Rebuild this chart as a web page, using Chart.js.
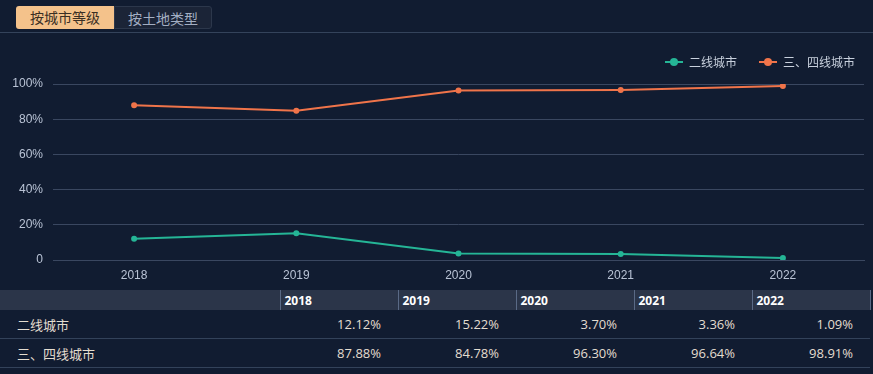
<!DOCTYPE html>
<html>
<head>
<meta charset="utf-8">
<script src="https://cdn.jsdelivr.net/npm/chart.js@4.4.1/dist/chart.umd.min.js"></script>
<style>
  html, body { margin: 0; padding: 0; }
  body {
    width: 873px; height: 374px; overflow: hidden; position: relative;
    background: #111c31;
    font-family: "Open Sans", "Noto Sans CJK SC", sans-serif;
  }
  .tabs { position: absolute; left: 16px; top: 6px; display: flex; }
  .tab {
    height: 23px; line-height: 23px; width: 98px; text-align: center;
    font-size: 14px; font-family: "Noto Sans CJK SC", sans-serif;
    box-sizing: border-box;
  }
  .tab.on { background: #f4c28b; color: #3a2f24; border-radius: 3px 0 0 3px; }
  .tab.off { background: #1b2437; color: #a3aec2; border: 1px solid #2c374b; border-radius: 0 3px 3px 0; }
  .topline { position: absolute; left: 0; right: 0; top: 32px; height: 1px; background: #34435b; }
  #wrap { position: absolute; left: 0; top: 34px; width: 873px; height: 254px; }
  table {
    position: absolute; left: 0; top: 290px; width: 870px;
    border-collapse: collapse; table-layout: fixed;
    font-size: 13px;
  }
  th {
    background: #2b3549; color: #ffffff; font-weight: bold; font-size: 12px;
    text-align: left; height: 20px; padding: 0 0 0 4px;
    border-left: 1px solid #5a6a86;
  }
  th:first-child { border-left: none; }
  th:last-child { border-right: 1px solid #5a6a86; }
  td {
    color: #e4ddd0; height: 28px; padding: 0 17px 0 0; text-align: right;
    border-bottom: 1px solid #33425a;
  }
  td:first-child { text-align: left; padding: 0 0 0 17px; font-family: "Noto Sans CJK SC", sans-serif; }
</style>
</head>
<body>
<div class="tabs"><div class="tab on">按城市等级</div><div class="tab off">按土地类型</div></div>
<div class="topline"></div>
<div id="wrap"><canvas id="c"></canvas></div>
<table id="tbl"></table>
<script>
const years = ['2018', '2019', '2020', '2021', '2022'];
const seriesNames = ['二线城市', '三、四线城市'];
const secondTier = [12.12, 15.22, 3.70, 3.36, 1.09];
const thirdFourthTier = [87.88, 84.78, 96.30, 96.64, 98.91];
const yTicks = [0, 20, 40, 60, 80, 100];
const colors = ['#25b596', '#f0744a'];

function legendMark(color) {
  const c = document.createElement('canvas');
  c.width = 18; c.height = 10;
  const g = c.getContext('2d');
  g.strokeStyle = color; g.lineWidth = 2;
  g.beginPath(); g.moveTo(0, 5); g.lineTo(18, 5); g.stroke();
  g.fillStyle = color;
  g.beginPath(); g.arc(9, 5, 4, 0, Math.PI * 2); g.fill();
  return c;
}

const values = [secondTier, thirdFourthTier];

// extra gap under the legend, and push it a bit to the right
const legendTweak = {
  id: 'legendTweak',
  beforeInit(chart) {
    const orig = chart.legend.fit;
    chart.legend.fit = function () {
      orig.call(this);
      this.height += 6;
    };
  },
  afterLayout(chart) {
    chart.legend.left += 13;
    chart.legend.right += 13;
  },
};

new Chart(document.getElementById('c'), {
  type: 'line',
  plugins: [legendTweak],
  data: {
    labels: years,
    datasets: seriesNames.map((name, i) => ({
      label: name,
      data: values[i],
      borderColor: colors[i],
      backgroundColor: colors[i],
      borderWidth: 2,
      pointRadius: 2,
      pointHoverRadius: 3,
      tension: 0,
    })),
  },
  options: {
    responsive: true,
    maintainAspectRatio: false,
    animation: false,
    layout: { padding: { left: 0, right: 9, top: 0, bottom: 0 } },
    plugins: {
      tooltip: { enabled: false },
      legend: {
        position: 'top',
        align: 'end',
        labels: {
          usePointStyle: true,
          pointStyleWidth: 18,
          color: '#c8d0dd',
          font: { size: 12, family: '"Noto Sans CJK SC", sans-serif' },
          boxHeight: 10,
          padding: 22,
          generateLabels: (chart) => chart.data.datasets.map((ds, i) => ({
            text: ds.label,
            fontColor: '#c8d0dd',
            pointStyle: legendMark(colors[i]),
            datasetIndex: i,
            lineWidth: 0,
            strokeStyle: 'transparent',
            fillStyle: colors[i],
          })),
        },
      },
    },
    scales: {
      x: {
        offset: true,
        grid: { display: false },
        border: { color: '#3a4760' },
        ticks: { color: '#b9c3d5', font: { size: 12 }, padding: 0 },
        afterFit: (s) => { s.height = 28; },
      },
      y: {
        min: 0,
        max: 100,
        afterBuildTicks: (s) => { s.ticks = yTicks.map((v) => ({ value: v })); },
        grid: { color: '#3a4760', drawTicks: false },
        border: { display: false },
        ticks: {
          color: '#b9c3d5',
          font: { size: 12 },
          padding: 10,
          callback: (v) => (v === 0 ? '0' : v + '%'),
        },
        afterFit: (s) => { s.width = 53; },
      },
    },
  },
});

const tbl = document.getElementById('tbl');
let html = '<colgroup><col style="width:280px">' + years.map(() => '<col style="width:118px">').join('') + '</colgroup>';
html += '<tr><th></th>' + years.map((y) => '<th>' + y + '</th>').join('') + '</tr>';
seriesNames.forEach((name, i) => {
  html += '<tr><td>' + name + '</td>' + values[i].map((v) => '<td>' + v.toFixed(2) + '%</td>').join('') + '</tr>';
});
tbl.innerHTML = html;
</script>
</body>
</html>
